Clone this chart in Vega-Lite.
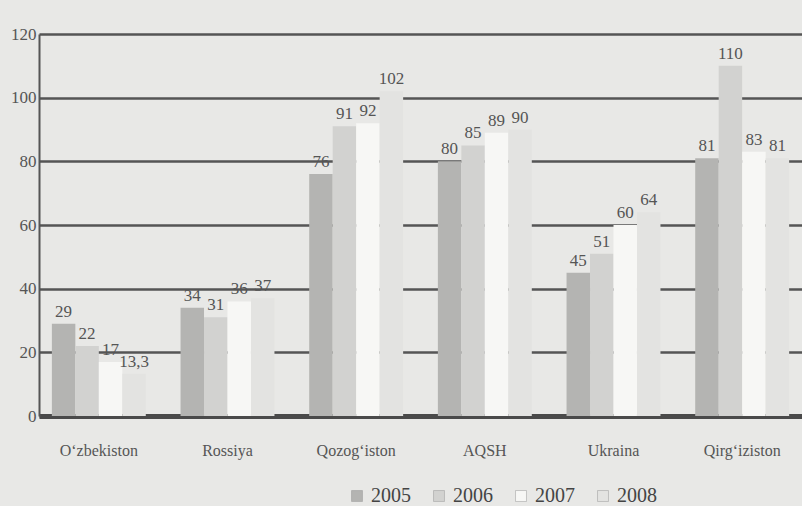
{
  "$schema": "https://vega.github.io/schema/vega-lite/v6.json",
  "width": 763,
  "height": 382,
  "padding": {"left": 10, "top": 25, "right": 0, "bottom": 0},
  "background": "#e8e8e6",
  "config": {
    "view": {"stroke": null},
    "font": "Liberation Serif"
  },
  "data": {
    "values": [
      {"country": "O‘zbekiston", "year": "2005", "value": 29, "label": "29"},
      {"country": "O‘zbekiston", "year": "2006", "value": 22, "label": "22"},
      {"country": "O‘zbekiston", "year": "2007", "value": 17, "label": "17"},
      {"country": "O‘zbekiston", "year": "2008", "value": 13.3, "label": "13,3"},
      {"country": "Rossiya", "year": "2005", "value": 34, "label": "34"},
      {"country": "Rossiya", "year": "2006", "value": 31, "label": "31"},
      {"country": "Rossiya", "year": "2007", "value": 36, "label": "36"},
      {"country": "Rossiya", "year": "2008", "value": 37, "label": "37"},
      {"country": "Qozog‘iston", "year": "2005", "value": 76, "label": "76"},
      {"country": "Qozog‘iston", "year": "2006", "value": 91, "label": "91"},
      {"country": "Qozog‘iston", "year": "2007", "value": 92, "label": "92"},
      {"country": "Qozog‘iston", "year": "2008", "value": 102, "label": "102"},
      {"country": "AQSH", "year": "2005", "value": 80, "label": "80"},
      {"country": "AQSH", "year": "2006", "value": 85, "label": "85"},
      {"country": "AQSH", "year": "2007", "value": 89, "label": "89"},
      {"country": "AQSH", "year": "2008", "value": 90, "label": "90"},
      {"country": "Ukraina", "year": "2005", "value": 45, "label": "45"},
      {"country": "Ukraina", "year": "2006", "value": 51, "label": "51"},
      {"country": "Ukraina", "year": "2007", "value": 60, "label": "60"},
      {"country": "Ukraina", "year": "2008", "value": 64, "label": "64"},
      {"country": "Qirg‘iziston", "year": "2005", "value": 81, "label": "81"},
      {"country": "Qirg‘iziston", "year": "2006", "value": 110, "label": "110"},
      {"country": "Qirg‘iziston", "year": "2007", "value": 83, "label": "83"},
      {"country": "Qirg‘iziston", "year": "2008", "value": 81, "label": "81"}
    ]
  },
  "encoding": {
    "x": {
      "field": "country",
      "type": "nominal",
      "sort": null,
      "scale": {"paddingInner": 0.27, "paddingOuter": 0.1},
      "axis": {
        "title": null,
        "labelAngle": 0,
        "labelFontSize": 16,
        "labelColor": "#555",
        "labelPadding": 26,
        "ticks": false,
        "domainColor": "#4a4a4a",
        "domainWidth": 5
      }
    },
    "xOffset": {"field": "year", "type": "nominal"},
    "y": {
      "field": "value",
      "type": "quantitative",
      "scale": {"domain": [0, 120], "nice": false},
      "axis": {
        "title": null,
        "values": [0, 20, 40, 60, 80, 100, 120],
        "labelFontSize": 17,
        "labelColor": "#555",
        "labelPadding": 3,
        "ticks": false,
        "domainColor": "#555",
        "domainWidth": 2,
        "grid": true,
        "gridColor": "#555",
        "gridWidth": 2.5
      }
    }
  },
  "layer": [
    {
      "mark": {"type": "bar"},
      "encoding": {
        "color": {
          "field": "year",
          "type": "nominal",
          "scale": {
            "domain": ["2005", "2006", "2007", "2008"],
            "range": ["#b4b4b2", "#d2d2d0", "#f7f7f5", "#e3e3e1"]
          },
          "legend": {
            "title": null,
            "orient": "none",
            "legendX": 308,
            "legendY": 452,
            "direction": "horizontal",
            "labelFontSize": 20,
            "labelColor": "#444",
            "symbolType": "square",
            "symbolSize": 120,
            "symbolStrokeColor": "#999",
            "symbolStrokeWidth": 0.5,
            "columnPadding": 18
          }
        }
      }
    },
    {
      "mark": {"type": "text", "baseline": "bottom", "dy": -3, "fontSize": 17, "color": "#555"},
      "encoding": {
        "text": {"field": "label", "type": "nominal"}
      }
    }
  ]
}
